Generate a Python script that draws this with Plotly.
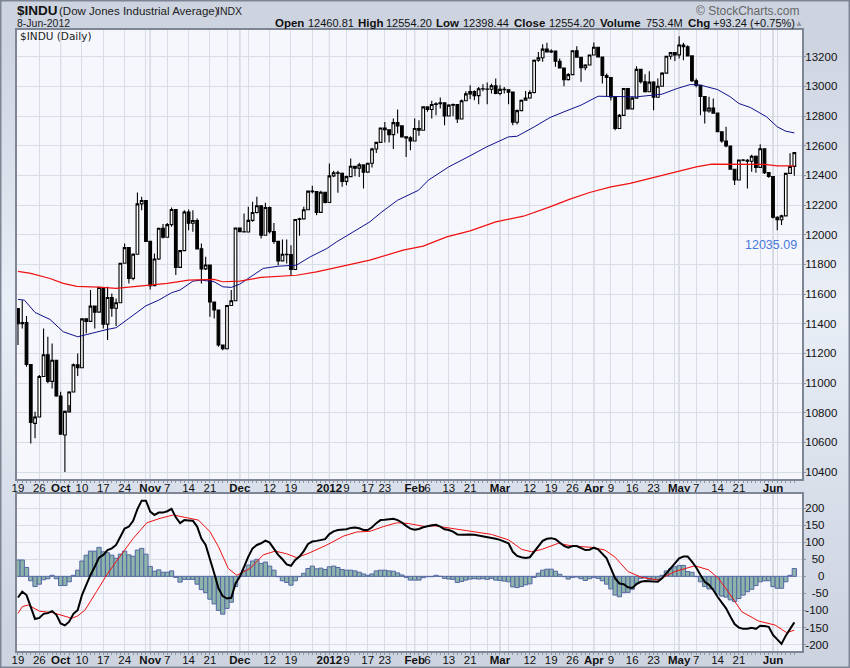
import base64
import plotly.graph_objects as go

opens = [11503,11401,11408,11125,10728,10771,11044,11191,11011,11154,10913,10650,10805,10940,11123,11103,11433,11416,11519,11478,
11644,11397,11577,11504,11541,11808,11913,11706,11869,12208,12231,11955,11657,11836,12044,11983,12068,12170,11780,11893,
12153,12078,12096,11905,11770,11796,11547,11493,11257,11231,11523,11555,12045,12020,12019,12097,12150,12196,11997,12184,
12021,11955,11824,11868,11866,11766,12103,12107,12169,12294,12291,12151,12287,12217,12397,12418,12415,12360,12392,12462,
12449,12471,12422,12482,12578,12623,12720,12708,12675,12756,12734,12660,12653,12632,12716,12705,12862,12845,12878,12883,
12890,12801,12874,12878,12780,12904,12950,12965,12938,12984,12983,12981,13005,12952,12980,12978,12962,12759,12837,12907,
12922,12959,13177,13194,13252,13232,13239,13170,13124,13046,13080,13241,13197,13126,13145,13212,13264,13199,13074,13060,
12929,12716,12805,12986,12849,12921,13115,13032,12964,13029,12927,13001,13090,13204,13228,13213,13279,13268,13206,13038,
13008,12932,12835,12855,12820,12695,12632,12598,12442,12369,12504,12502,12496,12529,12454,12580,12419,12393,12118,12101,
12127,12414,12461]
highs = [11503,11559,11452,11125,10807,11054,11368,11312,11267,11154,10941,10815,10945,11132,11200,11433,11433,11627,11519,11650,
11644,11649,11604,11570,11808,11941,11913,11875,12285,12256,12235,11955,11874,12044,12072,12080,12184,12170,11893,12166,
12170,12166,12110,11941,11851,11796,11547,11493,11257,11523,11627,12045,12045,12144,12188,12222,12256,12196,12215,12190,
12080,11955,11968,11968,11930,12103,12115,12188,12294,12330,12291,12296,12289,12480,12431,12431,12420,12399,12514,12462,
12485,12473,12485,12586,12623,12720,12761,12708,12784,12844,12734,12664,12664,12784,12772,12867,12867,12903,12894,12925,
12894,12880,12885,12878,12912,12968,13008,12975,12997,13015,13026,13019,13053,13008,12997,12980,12962,12844,12912,12970,
12975,13181,13233,13285,13294,13250,13239,13188,13124,13090,13241,13271,13197,13150,13212,13296,13264,13199,13087,13060,
12929,12815,12986,12986,12930,13137,13115,13083,13103,13035,13053,13095,13204,13233,13228,13339,13294,13278,13206,13053,
13008,12932,12930,12919,12820,12695,12728,12598,12442,12504,12510,12510,12540,12535,12611,12580,12419,12393,12125,12135,
12414,12550,12554]
lows = [11256,11368,11110,10593,10627,10771,11044,10998,10964,10908,10655,10400,10852,10937,11047,11103,11335,11413,11368,11478,
11368,11290,11447,11384,11541,11808,11672,11694,11869,12166,11955,11631,11654,11829,11975,11983,12054,11728,11780,11893,
12031,12020,11905,11672,11762,11447,11436,11245,11222,11226,11523,11555,12020,12019,12019,12087,12144,11975,11997,12009,
11940,11795,11824,11806,11728,11766,11993,12107,12169,12278,12132,12151,12211,12217,12390,12283,12323,12334,12392,12395,
12390,12312,12422,12453,12552,12623,12622,12622,12579,12682,12656,12525,12570,12632,12667,12705,12829,12784,12806,12851,
12739,12801,12799,12754,12780,12904,12914,12907,12880,12968,12880,12952,12948,12941,12952,12880,12739,12743,12837,12907,
12917,12952,13166,13166,13232,13225,13132,13124,13002,13040,13080,13197,13031,13110,13145,13212,13199,13020,12930,12905,
12705,12716,12805,12849,12849,12921,13020,12960,12964,12840,12927,13001,13090,13181,13172,13188,13177,13206,13030,12995,
12806,12750,12822,12817,12694,12620,12590,12442,12335,12369,12495,12312,12424,12418,12454,12410,12385,12110,12031,12065,
12127,12414,12398]
closes = [11401,11408,11125,10734,10771,11044,11191,11011,11154,10913,10655,10809,10940,11123,11103,11433,11416,11519,11478,11644,
11397,11577,11504,11541,11808,11913,11706,11869,12208,12231,11955,11657,11836,12044,11983,12068,12170,11780,11893,12153,
12078,12096,11905,11770,11796,11547,11493,11257,11231,11523,11555,12045,12020,12019,12097,12150,12196,11997,12184,12021,
11955,11823,11868,11866,11766,12103,12107,12169,12294,12291,12151,12287,12217,12397,12418,12415,12360,12392,12462,12449,
12471,12422,12482,12578,12623,12720,12708,12675,12756,12734,12660,12653,12632,12716,12705,12862,12845,12878,12883,12890,
12801,12874,12878,12780,12904,12950,12965,12938,12984,12983,12981,13005,12952,12980,12978,12962,12759,12837,12907,12922,
12959,13177,13194,13252,13232,13239,13170,13124,13046,13080,13241,13197,13126,13145,13212,13264,13199,13074,13060,12929,
12716,12805,12986,12849,12921,13115,13032,12964,13029,12927,13001,13090,13204,13228,13213,13279,13268,13206,13038,13008,
12932,12835,12855,12820,12695,12632,12598,12442,12369,12504,12502,12496,12529,12454,12580,12419,12393,12118,12101,12127,
12414,12460,12554]

ma50_bars = [0,1.5,4,7.5,10.6,14,21,23,26,30,33,36,38,41,43,46,48,50,52,54.5,57.5,59,61,65.3,68.5,72.4,74.7,82.5,85.3,89,93.9,96.2,101,105.5,109.9,115,117,121,124.7,128,132,136,140,145,151,154.5,157.6,160,164,167,169,171.7,175.5,178,180,182]
ma50_vals = [11564,11559,11476,11429,11346,11312,11362,11373,11436,11521,11559,11609,11627,11687,11694,11683,11649,11645,11667,11717,11773,11779,11788,11795,11851,11907,11952,12087,12154,12233,12300,12368,12458,12525,12593,12660,12664,12727,12790,12829,12874,12934,12930,12930,12948,12986,13013,13009,12979,12930,12885,12858,12795,12728,12698,12687]
ma200_bars = [0,3,7.5,10.6,13.8,19,23,27,30,35,40,46,48,52,57,61,65.3,70,74.7,82.5,90.3,95,100.5,106,112,118.5,124.7,129.4,134,139,143.5,148,154,159,162.6,167,175,178,182]
ma200_vals = [11753,11739,11705,11672,11652,11647,11638,11649,11660,11672,11694,11699,11683,11687,11712,11721,11727,11750,11779,11829,11896,11923,11986,12026,12087,12125,12188,12240,12285,12323,12346,12379,12424,12458,12476,12476,12474,12465,12465]

macd_vals = [-62,-45,-55,-89,-125,-122,-110,-108,-102,-113,-138,-144,-133,-110,-99,-55,-25,4,28,55,
63,77,82,92,116,140,146,163,197,222,222,190,180,187,187,191,198,173,156,165,
164,163,146,111,92,53,9,-35,-58,-65,-63,-21,-1,28,58,82,92,97,105,99,
82,63,50,35,31,48,58,74,95,102,104,107,109,124,132,136,136,138,142,143,
141,136,136,144,156,165,166,167,169,165,158,148,140,137,139,144,148,150,151,146,
138,136,131,123,122,123,123,122,120,116,116,114,110,107,102,97,72,60,56,54,
56,72,89,104,110,112,109,100,89,84,89,89,83,77,78,84,79,67,53,23,
-6,-21,-23,-32,-34,-23,-16,-14,-15,-17,-16,-6,9,23,38,53,58,58,43,26,
4,-16,-25,-40,-60,-77,-94,-118,-140,-150,-154,-154,-151,-154,-145,-146,-148,-172,-185,-198,
-174,-153,-135]
signal_bars = [0,1,2.4,5,8.3,10.6,12.6,14,15.7,18.4,20.8,23,27,30.2,33.3,36.4,39.5,42.3,45,47,49.3,51.3,54.4,57.5,60.3,63,65.3,68,72.4,76.3,79.4,82.5,85.7,88.8,91.5,95.4,97.8,103.2,111,115,118.1,120.4,122.8,126.7,129.8,134.5,137.6,140,143,146.2,150,154,158.7,161.9,164.2,166.5,169.7,173.6,177.5,180.2,182]
signal_vals = [-109,-89,-84,-102,-107,-115,-123,-116,-99,-45,4,43,111,157,170,180,173,165,131,87,23,3,23,63,74,66,55,67,92,118,130,132,146,157,155,146,148,138,123,107,79,72,79,97,89,85,77,56,14,-3,-11,14,31,19,-6,-45,-104,-131,-143,-165,-158]
hist_vals = [48,48,26,-13,-30,-23,-10,-7,3,-7,-27,-27,-16,3,18,45,62,74,74,85,
72,69,62,53,65,74,63,59,77,82,65,29,15,19,12,12,16,-3,-17,-9,
-9,-9,-23,-39,-48,-67,-81,-100,-111,-94,-76,-30,0,18,33,45,50,38,42,30,
18,-1,-13,-18,-26,-13,-1,9,23,30,22,24,20,28,30,26,20,18,18,16,
12,7,3,7,16,18,18,16,15,10,4,-3,-11,-11,-11,-4,-1,-1,3,0,
-6,-8,-9,-18,-15,-11,-8,-7,-8,-7,-9,-6,-11,-12,-14,-16,-31,-33,-30,-25,
-22,-3,9,18,21,21,15,6,-1,-8,-3,-2,-7,-12,-7,-3,-6,-13,-23,-37,
-55,-60,-48,-47,-38,-20,-6,-4,-9,-9,-9,3,16,22,28,32,32,14,12,-1,
-16,-30,-37,-37,-52,-58,-61,-69,-74,-65,-55,-45,-38,-27,-16,-13,-13,-30,-35,-35,
-16,3,23]

tick_bars = [0,5,10,15,20,25,30,31,35,40,45,49,52,54,59,64,69,73,77,82,86,91,93,96,101,106,110,113,115,120,125,130,135,139,144,149,154,155,159,164,169,174,177,178]
tick_labels = ["19","26","<b>Oct</b>","10","17","24","","<b>Nov</b>","7","14","21","","<b>Dec</b>","","12","19","","<b>2012</b>","9","17","23","","<b>Feb</b>","6","13","21","","<b>Mar</b>","","12","19","26","<b>Apr</b>","9","16","23","","<b>May</b>","7","14","21","","<b>Jun</b>",""]
month_bars = [10,31,52,73,93,113,135,155,177]
price_ticks = list(range(10400, 13400, 200))
macd_ticks = [200,150,100,50,0,-50,-100,-150,-200]
macd_tick_text = ["200","150","100","\u200750","\u2007\u20070","\u2007-50","-100","-150","-200"]
all_bars = list(range(len(closes)))

W, H = 850, 668
GRID = "#D9DDE6"
MONTH = "#B4B9C6"
EDGE = "#7E8594"
FONT = "Liberation Sans"
PLOTBG = "#F5F7FC"

svg = f"""<svg xmlns='http://www.w3.org/2000/svg' width='{W}' height='{H}'><defs><linearGradient id='g' x1='0' y1='0' x2='0' y2='1'><stop offset='0' stop-color='#CDD4E0'/><stop offset='0.06' stop-color='#CDD4E0'/><stop offset='0.45' stop-color='#E9EEF7'/><stop offset='0.95' stop-color='#CDD4E0'/><stop offset='1' stop-color='#CDD4E0'/></linearGradient></defs><rect width='{W}' height='{H}' fill='url(#g)'/></svg>"""
bg = "data:image/svg+xml;base64," + base64.b64encode(svg.encode()).decode()

fig = go.Figure()
fig.add_trace(go.Candlestick(x=all_bars, open=opens, high=highs, low=lows, close=closes, xaxis="x", yaxis="y",
    increasing=dict(line=dict(color="#000000", width=1.1), fillcolor="#FFFFFF"),
    decreasing=dict(line=dict(color="#000000", width=1.1), fillcolor="#000000"),
    whiskerwidth=0, showlegend=False, hoverinfo="skip"))
fig.add_trace(go.Scatter(x=ma50_bars, y=ma50_vals, mode="lines", line=dict(color="#10108C", width=1), xaxis="x", yaxis="y", hoverinfo="skip", showlegend=False))
fig.add_trace(go.Scatter(x=ma200_bars, y=ma200_vals, mode="lines", line=dict(color="#F01010", width=1.2), xaxis="x", yaxis="y", hoverinfo="skip", showlegend=False))
fig.add_trace(go.Bar(x=all_bars, y=hist_vals, width=1, marker=dict(color="#8DB4A8", line=dict(color="#5566A6", width=1)), xaxis="x2", yaxis="y2", hoverinfo="skip", showlegend=False))
fig.add_trace(go.Scatter(x=signal_bars, y=signal_vals, mode="lines", line=dict(color="#F01010", width=1), xaxis="x2", yaxis="y2", hoverinfo="skip", showlegend=False))
fig.add_trace(go.Scatter(x=all_bars, y=macd_vals, mode="lines", line=dict(color="#000000", width=2), xaxis="x2", yaxis="y2", hoverinfo="skip", showlegend=False))

xa = dict(range=[-0.23, 183.8], tickmode="array", tickvals=tick_bars, ticktext=tick_labels, showgrid=True, gridcolor=GRID, gridwidth=1,
          zeroline=False, showline=True, linecolor=EDGE, linewidth=2, mirror=True, ticks="", rangeslider=dict(visible=False),
          minor=dict(tickmode="array", tickvals=all_bars, ticks="outside", ticklen=2, tickcolor="#8E95A3", showgrid=False),
          tickfont=dict(family=FONT, size=11.5, color="#111111"), tickangle=0, ticklabelstandoff=-3)
ya = dict(side="right", zeroline=False, showgrid=True, gridcolor=GRID, gridwidth=1, showline=True, linecolor=EDGE, linewidth=2, mirror=True,
          ticks="outside", ticklen=2, tickcolor="#8E95A3", tickfont=dict(family=FONT, size=11.5, color="#111111"), ticklabelstandoff=-3)

layout_shapes = []
for y0, y1 in ((H-479, H-29.5), (H-651, H-494)):
    layout_shapes.append(dict(type="rect", xref="paper", yref="paper", x0=17/W, x1=802/W, y0=y0/H, y1=y1/H, fillcolor=PLOTBG, line=dict(width=0), layer="below"))
layout_shapes += [dict(type="line", xref=r, yref=f"{r.replace('x','y')} domain", x0=m, x1=m, y0=0, y1=1, line=dict(color=MONTH, width=1), layer="below")
                 for r in ("x", "x2") for m in month_bars]
for y0, y1 in ((H-481, H-29), (H-653, H-494)):
    layout_shapes.append(dict(type="rect", xref="paper", yref="paper", x0=802/W, x1=804/W, y0=y0/H, y1=y1/H, fillcolor="#A9AFBB", line=dict(width=0), layer="below"))
layout_shapes.append(dict(type="rect", xref="paper", yref="paper", x0=0.5/W, x1=(W-0.5)/W, y0=0.5/H, y1=(H-0.5)/H, line=dict(color=EDGE, width=2), fillcolor="rgba(0,0,0,0)", layer="above"))

def note(x, y, text, size=12, color="#111111", family=FONT, anchor="left"):
    return dict(xref="paper", yref="paper", x=x/W, y=1-y/H, text=text, showarrow=False, xanchor=anchor, yanchor="middle",
                font=dict(family=family, size=size, color=color), align="left", borderpad=0)

notes = [
    note(16, 10.5, "<b>$INDU</b>", 13.5),
    note(58, 10.5, "(Dow Jones Industrial Average)", 11.5, "#222222"),
    note(216, 10.5, "INDX", 10.5, "#222222"),
    note(16, 23.5, "8-Jun-2012", 10.5, "#222222"),
    note(19, 36.5, "$INDU (Daily)", 10.5, "#222222", "DejaVu Sans"),
    note(801, 10.5, "\u00a9 StockCharts.com", 12, "#666666", anchor="right"),
    note(274, 23.5, "<b>Open</b>", 11.5), note(306.5, 23.5, "12460.81", 11),
    note(357, 23.5, "<b>High</b>", 11.5), note(385, 23.5, "12554.20", 11),
    note(434.5, 23.5, "<b>Low</b>", 11.5), note(462.5, 23.5, "12398.44", 11),
    note(513, 23.5, "<b>Close</b>", 11.5), note(548, 23.5, "12554.20", 11),
    note(599, 23.5, "<b>Volume</b>", 11.5), note(645, 23.5, "753.4M", 11),
    note(687, 23.5, "<b>Chg</b>", 11.5), note(712, 23.5, "+93.24 (+0.75%)", 11),
    note(794, 23.5, "\u25b2", 8, "#8E95A3"),
    note(798, 244.5, "12035.09", 12.5, "#4A78DC", anchor="right"),
]

fig.update_layout(
    width=W, height=H, autosize=False, margin=dict(l=0, r=0, t=0, b=0, pad=0, autoexpand=False), paper_bgcolor="#CDD4E0", plot_bgcolor="rgba(0,0,0,0)",
    showlegend=False, barmode="overlay", hovermode=False, boxgap=0.1,
    xaxis=dict(xa, domain=[17/W, 802/W], anchor="y", side="bottom"),
    xaxis2=dict(xa, domain=[17/W, 802/W], anchor="y2", side="bottom", matches="x"),
    yaxis=dict(ya, domain=[(H-479)/H, (H-29.5)/H], anchor="x", range=[10353, 13384], tickmode="array", tickvals=price_ticks, ticktext=[str(t) for t in price_ticks]),
    yaxis2=dict(ya, domain=[(H-651)/H, (H-494)/H], anchor="x2", range=[-219, 241.5], tickmode="array", tickvals=macd_ticks, ticktext=macd_tick_text),
    images=[dict(source=bg, xref="paper", yref="paper", x=0, y=1, sizex=1, sizey=1, sizing="stretch", layer="below", xanchor="left", yanchor="top")],
    shapes=layout_shapes, annotations=notes,
)
for name, arr in dict(o=opens, h=highs, l=lows, c=closes, m=macd_vals, hv=hist_vals).items():
    assert len(arr) == 183, (name, len(arr))
assert len(tick_bars) == len(tick_labels)
fig.write_html("out.html", post_script="document.body.style.margin='0';document.body.style.overflow='hidden';", config=dict(displayModeBar=False))
